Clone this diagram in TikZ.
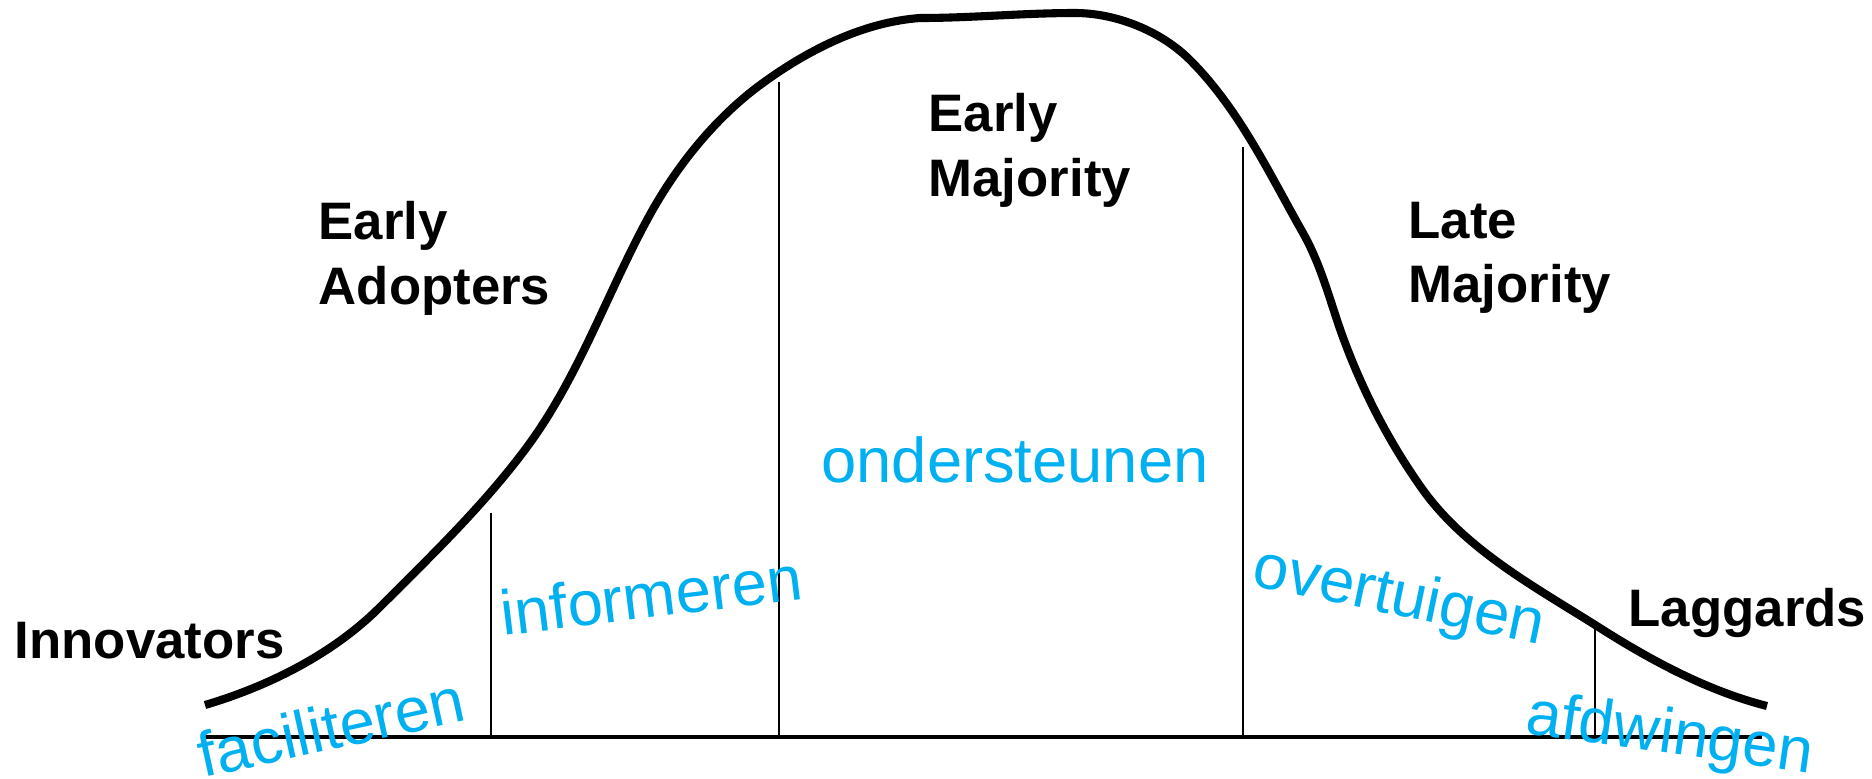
\documentclass[tikz,border=0pt]{standalone}
\usepackage{fontspec}
\setmainfont{Liberation Sans}
\usepackage{xcolor}
\usepackage{tikz}
\definecolor{actblue}{HTML}{00B0F0}

\begin{document}
\begin{tikzpicture}[x=0.01cm, y=-0.01cm,
    group/.style={font=\bfseries\fontsize{15}{18.3}\selectfont, align=left, inner sep=0pt},
    act/.style={text=actblue, font=\fontsize{18}{21}\selectfont, inner sep=0pt}]
  \useasboundingbox (0,0) rectangle (1872,778);

  % Baseline
  \draw[line width=1.4pt] (205,737) -- (1762,737);

  % Bell curve
  \draw[line width=2.3pt, line join=round]
    (205,705) .. controls (269,686) and (333,654) .. (380,607)
              .. controls (431,556) and (484,505) .. (527,447)
              .. controls (578,378) and (606,296) .. (647,220)
              .. controls (676,166) and (717,115) .. (767,80)
              .. controls (812,48) and (865,22) .. (920,18)
              .. controls (972,18) and (1023,13) .. (1075,13)
              .. controls (1116,13) and (1161,31) .. (1190,60)
              .. controls (1239,109) and (1269,173) .. (1303,233)
              .. controls (1320,263) and (1329,297) .. (1340,329)
              .. controls (1360,386) and (1388,441) .. (1423,490)
              .. controls (1467,551) and (1537,588) .. (1600,628)
              .. controls (1652,661) and (1708,691) .. (1767,706);

  % Segment boundaries
  \foreach \x/\t in {491/513, 779/82, 1243/147, 1595/628} {
    \draw[line width=0.6pt] (\x,737) -- (\x,\t);
  }

  % Adopter groups
  \node[group, anchor=base west] (innov) at (14,658) {Innovators};
  \node[group, anchor=north west] (early) at (318,201) {Early\\Adopters};
  \node[group, anchor=north west] (emaj) at (928,93) {Early\\Majority};
  \node[group, anchor=north west] (lmaj) at (1408,201) {Late\\Majority};
  \node[group, anchor=base west] (lagg) at (1628,626) {Laggards};

  % Actions
  \node[act, anchor=base west, rotate=12.3] (facil) at (203,778) {faciliteren};
  \node[act, anchor=base west, rotate=7] (inform) at (503,636) {informeren};
  \node[act, anchor=base] (onder) at (1015,482) {ondersteunen};
  \node[act, anchor=base west, rotate=-11.7] (overt) at (1250,585) {overtuigen};
  \node[act, anchor=base west, rotate=-8] (afdw) at (1524,733) {afdwingen};
\end{tikzpicture}
\end{document}
